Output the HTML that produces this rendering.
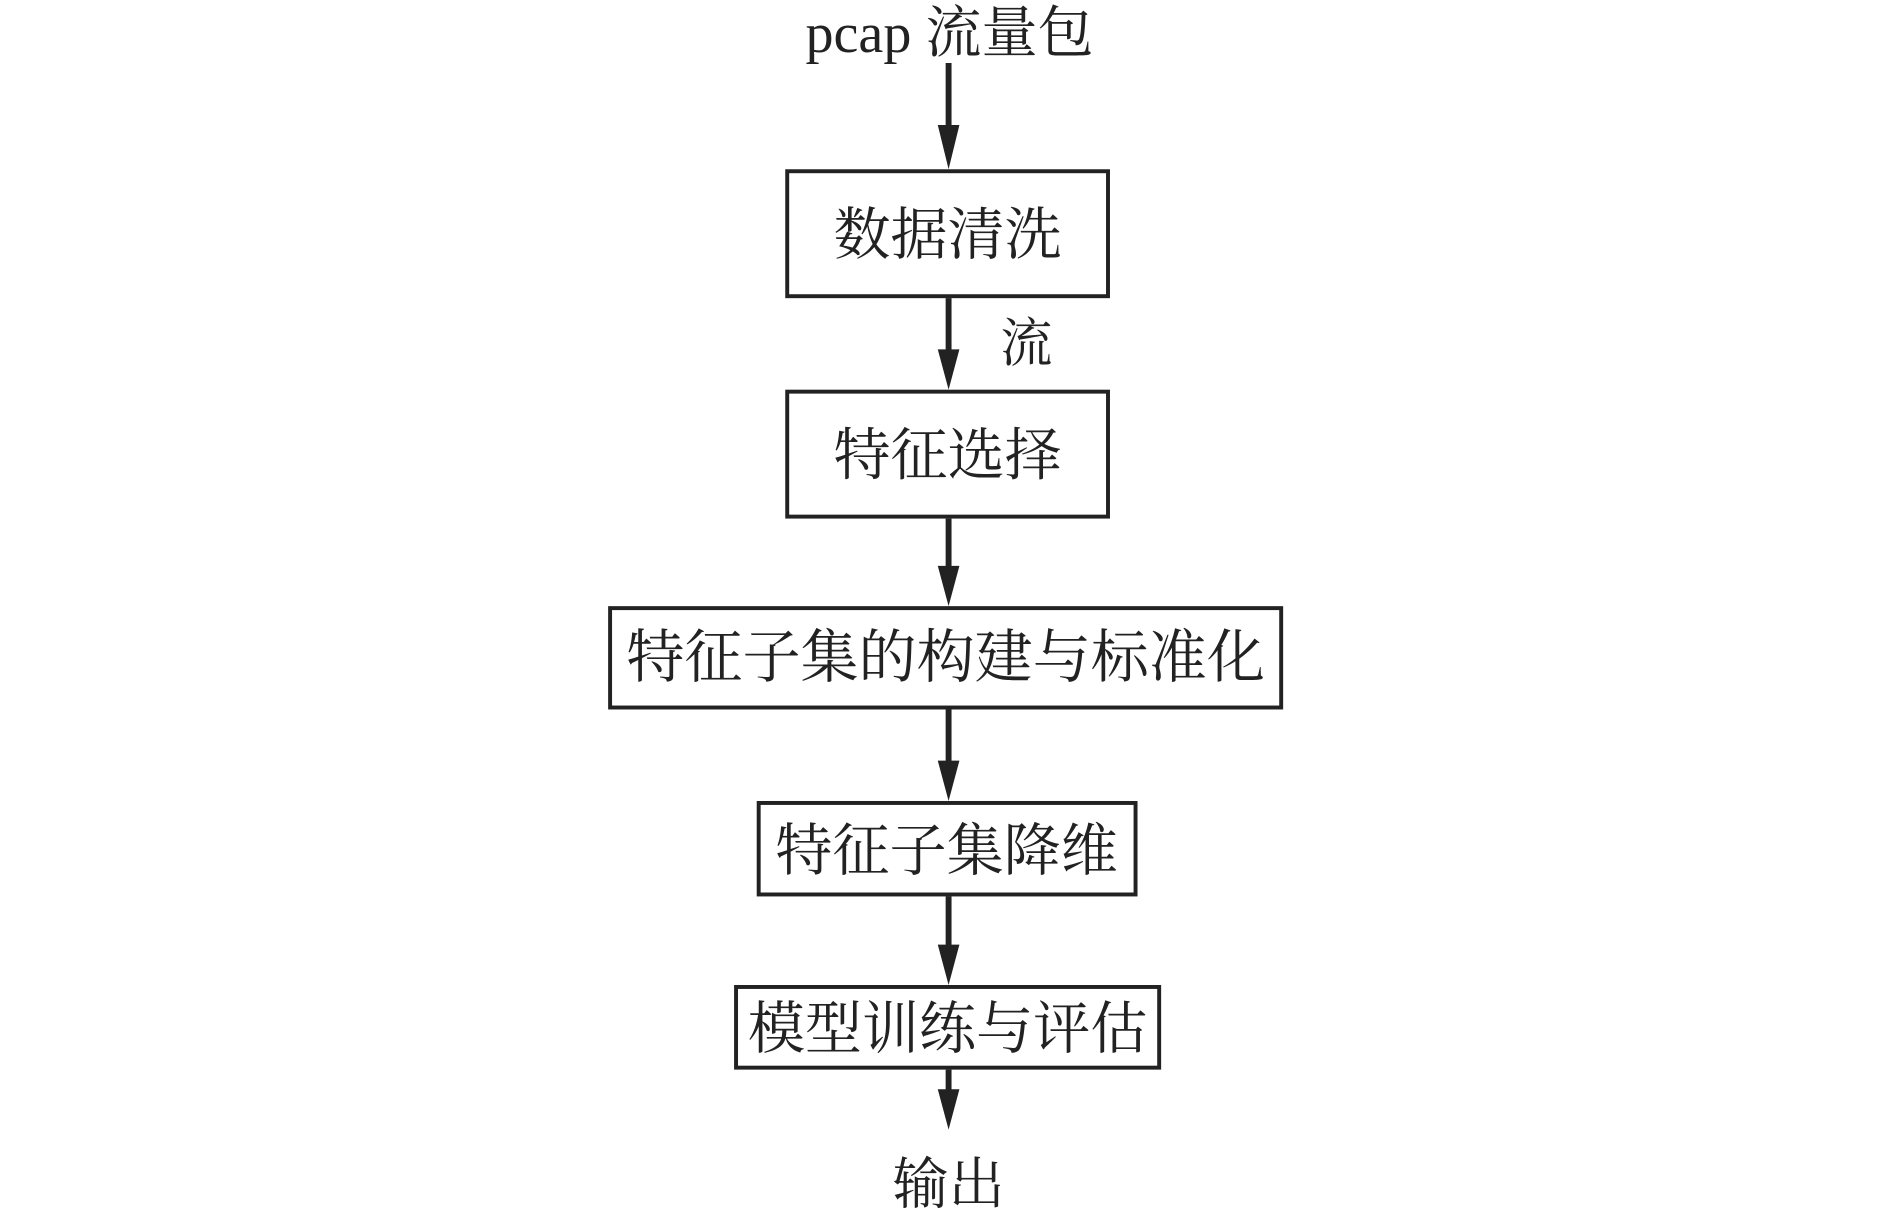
<!DOCTYPE html>
<html><head><meta charset="utf-8"><style>
html,body{margin:0;padding:0;background:#fff;}
svg{display:block;}
text{font-family:"Liberation Serif","Noto Serif CJK SC",serif;fill:#222;}
</style></head><body>
<svg width="1890" height="1225" viewBox="0 0 1890 1225" xmlns="http://www.w3.org/2000/svg">
<g transform="translate(1,1) scale(0.984)">
<g stroke="#222" fill="none" stroke-width="4">
<rect x="799" y="173" width="326" height="127"/>
<rect x="799" y="397" width="326" height="127"/>
<rect x="619" y="617" width="682" height="101"/>
<rect x="770" y="815" width="383" height="93"/>
<rect x="747" y="1002" width="430" height="82"/>
</g>
<g stroke="#222" stroke-width="6">
<line x1="963" y1="63" x2="963" y2="130"/>
<line x1="963" y1="302" x2="963" y2="358"/>
<line x1="963" y1="526" x2="963" y2="578"/>
<line x1="963" y1="720" x2="963" y2="776"/>
<line x1="963" y1="910" x2="963" y2="963"/>
<line x1="963" y1="1086" x2="963" y2="1110"/>
</g>
<g fill="#222">
<polygon points="952,126 974,126 963,171"/>
<polygon points="952,354 974,354 963,395"/>
<polygon points="952,574 974,574 963,615"/>
<polygon points="952,772 974,772 963,813"/>
<polygon points="952,959 974,959 963,1000"/>
<polygon points="952,1106 974,1106 963,1147"/>
</g>
<text x="964" y="52" font-size="57" text-anchor="middle">pcap 流量包</text>
<text x="962" y="257" font-size="58" text-anchor="middle">数据清洗</text>
<text x="1042" y="366" font-size="53" text-anchor="middle">流</text>
<text x="962" y="481" font-size="58" text-anchor="middle">特征选择</text>
<text x="960" y="687" font-size="59" text-anchor="middle">特征子集的构建与标准化</text>
<text x="961" y="883" font-size="58" text-anchor="middle">特征子集降维</text>
<text x="962" y="1064" font-size="58" text-anchor="middle">模型训练与评估</text>
<text x="963" y="1222" font-size="57" text-anchor="middle">输出</text>
</g>
</svg>
</body></html>
